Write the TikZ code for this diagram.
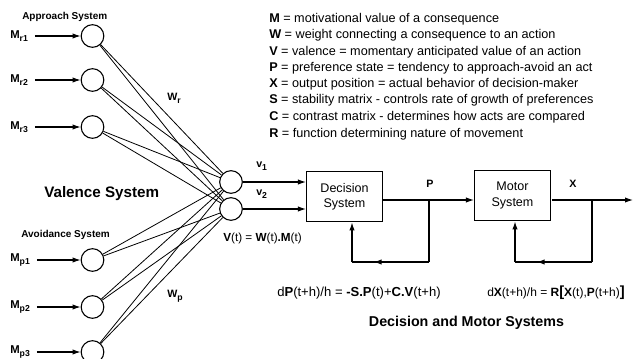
\documentclass[tikz,border=0pt]{standalone}
\usepackage{fontspec}
\setmainfont{Liberation Sans}
\usetikzlibrary{arrows.meta,decorations.markings}
\newcommand{\lowsub}[1]{\raisebox{-0.35em}{\fontsize{6.5}{7}\selectfont\bfseries #1}}
\begin{document}
\begin{tikzpicture}[x=0.75pt,y=-0.75pt,
  neuron/.style={circle,draw,line width=0.8pt,minimum size=17pt,inner sep=0pt},
  sysbox/.style={draw,line width=0.8pt,minimum width=57pt,minimum height=38pt,align=center,inner sep=0pt,font=\fontsize{9.4}{11.5}\selectfont},
  arr/.style={-{Latex[length=6pt,width=4pt]},line width=0.8pt},
  wire/.style={line width=0.6pt},
  fb/.style={line width=0.9pt},
  midarrow/.style={postaction={decorate},decoration={markings,mark=at position 0.72 with {\arrow{Latex[length=6pt,width=4pt]}}}},
  leg/.style={anchor=base west,inner sep=0pt,font=\fontsize{9.5}{11}\selectfont},
  mlab/.style={anchor=base west,inner sep=0pt,font=\fontsize{8.5}{9}\selectfont\bfseries},
  small/.style={inner sep=0pt,font=\fontsize{8}{9}\selectfont\bfseries}]
\useasboundingbox (0,0) rectangle (634,358);

% input neurons
\node[neuron] (r1) at (92.5,36) {};
\node[neuron] (r2) at (92.5,80) {};
\node[neuron] (r3) at (92.5,127) {};
\node[neuron] (p1) at (92.5,260) {};
\node[neuron] (p2) at (92.5,307) {};
\node[neuron] (p3) at (92.5,352) {};
% output neurons
\node[neuron] (v1) at (231,182) {};
\node[neuron] (v2) at (231,209) {};

% input labels
\node[mlab] (mr1) at (10,38) {M\lowsub{r1}};
\node[mlab] (mr2) at (10,82) {M\lowsub{r2}};
\node[mlab] (mr3) at (10,129) {M\lowsub{r3}};
\node[mlab] (mp1) at (10,261) {M\lowsub{p1}};
\node[mlab] (mp2) at (10,308) {M\lowsub{p2}};
\node[mlab] (mp3) at (10,353) {M\lowsub{p3}};
\foreach \a/\b in {mr1/r1,mr2/r2,mr3/r3,mp1/p1,mp2/p2,mp3/p3}
  \draw[arr] ([xshift=5pt]\a.east |- \b.west) -- (\b.west);

% weights
\foreach \i in {r1,r2,r3,p1,p2,p3}
  \foreach \o in {v1,v2}
    \draw[wire] (\i) -- (\o);

% titles
\node[anchor=west,inner sep=0pt,font=\fontsize{7.5}{9}\selectfont\bfseries] (appr) at (22,17) {Approach System};
\node[anchor=west,inner sep=0pt,font=\fontsize{7.5}{9}\selectfont\bfseries] (avoid) at (21,235) {Avoidance System};
\node[anchor=west,inner sep=0pt,font=\fontsize{11.4}{13}\selectfont\bfseries] (val) at (44,194) {Valence System};
\node[small,anchor=base west] (wr) at (167,100) {W\lowsub{r}};
\node[small,anchor=base west] (wp) at (167,297) {W\lowsub{p}};

% boxes
\node[sysbox] (dec) at (344.5,196.5) {Decision\\System};
\node[sysbox] (mot) at (512.5,195.5) {Motor\\System};

% valence outputs
\draw[arr] (v1.east) -- (v1.east -| dec.west);
\draw[arr] (v2.east) -- (v2.east -| dec.west);
\node[small,anchor=base west] (lv1) at (256,167) {v\lowsub{1}};
\node[small,anchor=base west] (lv2) at (256,195) {v\lowsub{2}};

% P line and feedback
\coordinate (dout) at (382,200);
\coordinate (dp) at (429,200);
\coordinate (dc) at (429,262);
\coordinate (db) at (352,262);
\draw[arr] (dout) -- (dout -| mot.west);
\draw[fb] (dp) -- (dc);
\draw[fb,midarrow] (dc) -- (db);
\draw[fb,-{Latex[length=6pt,width=4pt]}] (db) -- (db |- dec.south);
\node[small] (lp) at (430,184) {P};

% X line and feedback
\coordinate (mout) at (552,200);
\coordinate (xend) at (633,200);
\coordinate (mp) at (592,200);
\coordinate (mc) at (592,262);
\coordinate (mb) at (515,262);
\draw[arr] (mout) -- (xend);
\draw[fb] (mp) -- (mc);
\draw[fb,midarrow] (mc) -- (mb);
\draw[fb,-{Latex[length=6pt,width=4pt]}] (mb) -- (mb |- mot.south);
\node[small] (lx) at (573,184) {X};

% equations
\node[anchor=west,inner sep=0pt,font=\fontsize{8.8}{10}\selectfont] (veq) at (223,238) {\textbf{V}(t) = \textbf{W}(t)\textbf{.M}(t)};
\node[anchor=west,inner sep=0pt,font=\fontsize{9.8}{11}\selectfont] (peq) at (277,293) {d\textbf{P}(t+h)/h = \textbf{-S.P}(t)+\textbf{C.V}(t+h)};
\node[anchor=west,inner sep=0pt,font=\fontsize{9}{11}\selectfont] (xeq) at (487,293) {d\textbf{X}(t+h)/h = \textbf{R}{\fontsize{11}{11}\selectfont\textbf{[}}\textbf{X}(t),\textbf{P}(t+h){\fontsize{11}{11}\selectfont\textbf{]}}};
\node[inner sep=0pt,font=\fontsize{10.7}{12}\selectfont\bfseries] (dm) at (466.5,323) {Decision and Motor Systems};

% legend
\node[leg] (l1) at (269,22) {\textbf{M} = motivational value of a consequence};
\node[leg] (l2) at (269,38) {\textbf{W} = weight connecting a consequence to an action};
\node[leg] (l3) at (269,55) {\textbf{V} = valence = momentary anticipated value of an action};
\node[leg] (l4) at (269,71) {\textbf{P} = preference state = tendency to approach-avoid an act};
\node[leg] (l5) at (269,87) {\textbf{X} = output position = actual behavior of decision-maker};
\node[leg] (l6) at (269,103) {\textbf{S} = stability matrix - controls rate of growth of preferences};
\node[leg] (l7) at (269,120) {\textbf{C} = contrast matrix - determines how acts are compared};
\node[leg] (l8) at (269,137) {\textbf{R} = function determining nature of movement};
\end{tikzpicture}
\end{document}
